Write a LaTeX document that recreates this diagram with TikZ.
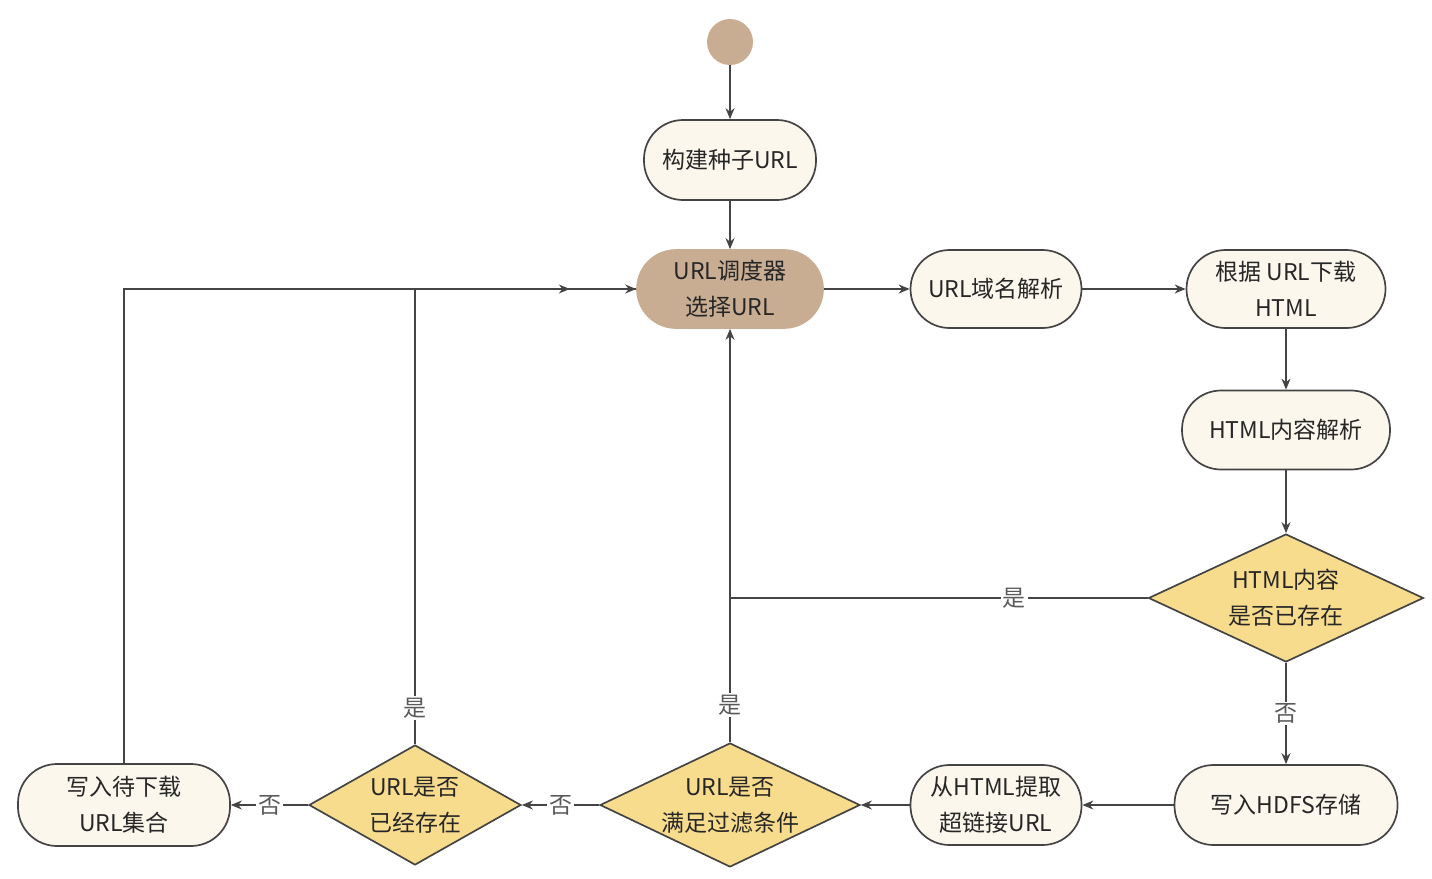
\documentclass[tikz,border=0pt]{standalone}
\usepackage{fontspec}
\setmainfont{Noto Sans CJK SC}
\usetikzlibrary{shapes.geometric,arrows.meta,decorations.markings}
\definecolor{tan}{HTML}{C9AD93}
\definecolor{cream}{HTML}{FBF7EC}
\definecolor{gold}{HTML}{F8DC8E}
\definecolor{ink}{HTML}{444444}
\begin{document}
\begin{tikzpicture}[
    x=1pt, y=-1pt,
    font=\fontsize{23}{36}\selectfont,
    box/.style={rectangle, draw=ink, line width=1.7pt, fill=cream, rounded corners=39pt, minimum height=79pt, align=center, text=black!85, inner sep=0pt},
    choice/.style={diamond, draw=ink, line width=1.7pt, fill=gold, aspect=2.1, inner sep=0pt, align=center, text=black!85},
    arr/.style={draw=ink, line width=1.5pt, -{Stealth[length=11pt,width=9pt]}},
    line/.style={draw=ink, line width=1.5pt},
    lbl/.style={fill=white, text=black!65, inner sep=2pt}
]
    \useasboundingbox (0,0) rectangle (1432,878);

    \node[circle, fill=tan, minimum size=46pt, inner sep=0pt] (start) at (730,42) {};
    \node[box, minimum width=172pt, minimum height=80pt] (seed) at (730,160) {构建种子URL};
    \node[box, fill=tan, draw=tan, minimum width=186pt, minimum height=78pt] (sched) at (730,289) {URL调度器\\选择URL};
    \node[box, minimum width=171pt, minimum height=78pt] (dns) at (996,289) {URL域名解析};
    \node[box, minimum width=199pt, minimum height=78pt] (fetch) at (1286,289) {根据 URL下载\\HTML};
    \node[box, minimum width=208pt] (parse) at (1286,430) {HTML内容解析};
    \node[choice, minimum width=275pt, minimum height=128pt] (exist) at (1286,598) {HTML内容\\是否已存在};
    \node[box, minimum width=223pt, minimum height=80pt] (hdfs) at (1286,805) {写入HDFS存储};
    \node[box, minimum width=171pt, minimum height=80pt] (extract) at (996,805) {从HTML提取\\超链接URL};
    \node[choice, minimum width=260pt, minimum height=124pt] (filter) at (730,805) {URL是否\\满足过滤条件};
    \node[choice, minimum width=212pt, minimum height=120pt] (dup) at (415,805) {URL是否\\已经存在};
    \node[box, minimum width=212pt, minimum height=82pt] (todo) at (124,805) {写入待下载\\URL集合};

    \coordinate (join) at (dup |- sched);

    \draw[arr] (start) -- (seed);
    \draw[arr] (seed) -- (sched);
    \draw[arr] (sched) -- (dns);
    \draw[arr] (dns) -- (fetch);
    \draw[arr] (fetch) -- (parse);
    \draw[arr] (parse) -- (exist);
    \draw[line] (exist.west) -- node[lbl, pos=0.32] {是} (exist.west -| sched);
    \draw[arr] (exist.south) -- node[lbl] {否} (hdfs.north);
    \draw[arr] (hdfs) -- (extract);
    \draw[arr] (extract) -- (filter);
    \draw[arr] (filter.north) -- node[lbl, pos=0.09] {是} (sched.south);
    \draw[arr] (filter.west) -- node[lbl] {否} (dup.east);
    \draw[arr] (dup.west) -- node[lbl] {否} (todo.east);
    \draw[line] (dup.north) -- node[lbl, pos=0.08] {是} (join);
    \draw[arr] (todo.north) |- (sched.west);
    \draw[line, postaction={decorate}, decoration={markings, mark=at position 0.7 with {\arrow{Stealth[length=11pt,width=9pt]}}}] (join) -- (sched.west);
\end{tikzpicture}
\end{document}
